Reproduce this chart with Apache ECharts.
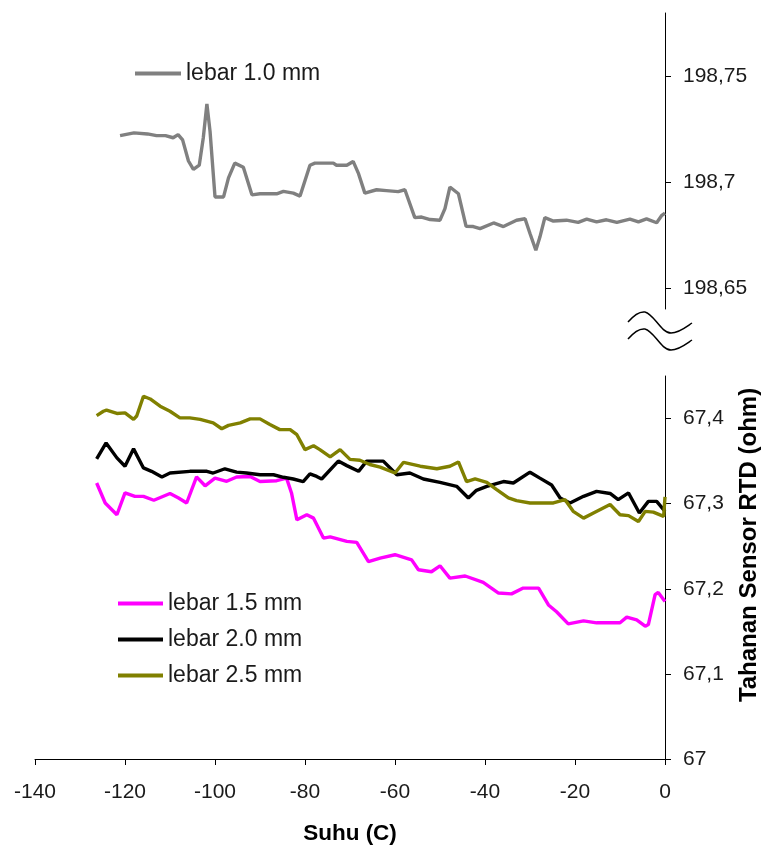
<!DOCTYPE html>
<html>
<head>
<meta charset="utf-8">
<script src="https://cdn.jsdelivr.net/npm/echarts@6/dist/echarts.min.js"></script>
<style>
html,body{margin:0;padding:0;background:#fff;}
#chart{width:762px;height:848px;}
</style>
</head>
<body>
<div id="chart"></div>
<script>
// ---- data ----
const seriesNames = ['lebar 1.0 mm', 'lebar 1.5 mm', 'lebar 2.0 mm', 'lebar 2.5 mm'];

const temp10 = [-121.1,-118,-115,-113,-111,-109.3,-108.2,-107.2,-105.9,-104.8,-103.5,-102.6,-101.8,-101.1,-100.0,-98.1,-97.0,-95.6,-93.7,-91.8,-90.0,-86.3,-84.8,-82.6,-81.1,-78.9,-77.8,-73.7,-73.0,-70.7,-69.3,-68.1,-66.7,-64.1,-61.9,-59.3,-57.8,-55.6,-54.1,-52.2,-50.0,-48.9,-47.8,-45.9,-44.2,-42.6,-41.1,-38.1,-35.9,-33.0,-31.1,-30.0,-28.7,-27.8,-26.7,-24.8,-21.9,-19.3,-17.4,-15.2,-13.0,-10.7,-7.8,-5.9,-4.1,-1.85,-0.7,0];
const res10 = [198.722,198.7233,198.7228,198.722,198.722,198.721,198.7225,198.720,198.710,198.706,198.708,198.721,198.737,198.724,198.693,198.693,198.702,198.709,198.707,198.694,198.6945,198.6945,198.6956,198.6948,198.6934,198.708,198.709,198.709,198.708,198.708,198.7098,198.704,198.6948,198.6964,198.696,198.6955,198.6964,198.6832,198.6835,198.6823,198.682,198.6875,198.6977,198.6945,198.6791,198.679,198.678,198.6807,198.679,198.682,198.6827,198.6757,198.6678,198.674,198.6832,198.6816,198.682,198.681,198.6825,198.6812,198.6822,198.681,198.6825,198.6812,198.6826,198.6808,198.6843,198.6854];

const temp15 = [-126.3,-124.4,-121.8,-120.0,-117.8,-115.9,-113.6,-110.0,-108.1,-106.3,-104.1,-102.2,-100.0,-97.4,-95.2,-92.2,-90.0,-86.3,-84.1,-83.0,-81.8,-79.6,-78.1,-75.9,-74.4,-70.7,-68.5,-65.9,-63.3,-60.0,-56.3,-54.8,-51.9,-50.0,-47.8,-44.4,-40.4,-37.0,-34.1,-31.5,-28.1,-25.9,-24.1,-21.5,-18.1,-15.2,-10.0,-8.5,-6.3,-4.4,-3.7,-2.2,-1.5,0];
const res15 = [67.3243,67.3008,67.287,67.3126,67.3086,67.3086,67.304,67.312,67.3067,67.3008,67.3314,67.321,67.330,67.3263,67.3314,67.332,67.326,67.327,67.330,67.3126,67.281,67.287,67.283,67.2596,67.261,67.2557,67.2545,67.232,67.236,67.240,67.234,67.2224,67.220,67.227,67.2125,67.215,67.2075,67.195,67.194,67.2008,67.2008,67.181,67.173,67.1588,67.1623,67.160,67.160,67.1667,67.1635,67.156,67.158,67.193,67.1957,67.185];

const temp20 = [-126.3,-124.2,-121.8,-120.0,-118.1,-115.9,-114.1,-111.8,-110.0,-105.6,-101.8,-100.4,-97.8,-95.2,-93.0,-90.0,-87.0,-84.8,-82.6,-80.4,-78.9,-77.4,-76.3,-72.6,-70.7,-68.1,-66.3,-62.6,-59.6,-56.7,-53.7,-50.0,-46.3,-43.7,-41.9,-39.6,-35.9,-33.7,-30.0,-27.8,-25.2,-23.3,-21.1,-18.1,-15.2,-12.2,-10.4,-8.1,-5.7,-3.7,-1.85,0];
const res20 = [67.3526,67.3714,67.3538,67.344,67.3644,67.342,67.338,67.3314,67.336,67.338,67.338,67.336,67.341,67.337,67.336,67.334,67.334,67.331,67.329,67.326,67.335,67.332,67.329,67.350,67.3447,67.338,67.350,67.350,67.334,67.336,67.329,67.325,67.3204,67.3067,67.3157,67.3204,67.326,67.3243,67.337,67.330,67.322,67.3067,67.3008,67.3086,67.3145,67.312,67.3047,67.3126,67.289,67.3027,67.3027,67.291];

const temp25 = [-126.3,-124.8,-124.1,-121.8,-120.0,-118.1,-117.4,-115.9,-114.4,-112.2,-110.0,-107.8,-105.6,-103.3,-100.4,-98.5,-97.0,-94.4,-92.2,-90.0,-87.8,-85.6,-83.3,-81.8,-80.0,-78.1,-76.7,-74.4,-72.2,-70.0,-67.8,-65.6,-63.3,-60.0,-58.1,-54.4,-50.7,-47.8,-45.9,-44.1,-42.2,-39.6,-37.4,-34.8,-33.0,-30.0,-24.8,-22.2,-20.4,-18.1,-15.9,-12.2,-10.0,-8.1,-5.9,-4.4,-2.6,-0.3,0];
const res25 = [67.4035,67.4086,67.410,67.406,67.4067,67.399,67.403,67.4262,67.423,67.4145,67.4086,67.4008,67.4008,67.399,67.395,67.388,67.392,67.395,67.3996,67.3996,67.393,67.387,67.387,67.381,67.3635,67.368,67.3635,67.355,67.3635,67.352,67.351,67.346,67.343,67.336,67.3486,67.344,67.341,67.344,67.349,67.326,67.329,67.325,67.3165,67.3067,67.3035,67.3008,67.3008,67.3047,67.291,67.283,67.289,67.299,67.287,67.286,67.279,67.291,67.290,67.285,67.308];

const xTicks = [-140, -120, -100, -80, -60, -40, -20, 0];
const yTicksTop = [198.65, 198.70, 198.75];
const yTicksBottom = [67.0, 67.1, 67.2, 67.3, 67.4];

// ---- chart ----
const FONT = '"Liberation Sans", Arial, sans-serif';
const fmt = v => String(+(+v).toFixed(2)).replace('.', ',');
const pairs = (xs, ys) => xs.map((x, i) => [x, ys[i]]);

const chart = echarts.init(document.getElementById('chart'), null, {renderer: 'canvas'});

const baseY = {
  type: 'value',
  position: 'right',
  scale: true,
  axisLine: {show: true, onZero: false, lineStyle: {color: '#000', width: 1}},
  axisTick: {show: true, inside: false, length: 6, lineStyle: {color: '#000'}},
  splitLine: {show: false},
  axisLabel: {color: '#1a1a1a', fontSize: 21, fontFamily: FONT, margin: 18, formatter: fmt}
};

// decorative axis-break wave (two parallel curves)
function wave(dy) {
  const segs = [
    [628,322, 634,315, 639,311, 645,312],
    [645,312, 654,314, 661,333, 671,333],
    [671,333, 679,333, 686,327, 692,323]
  ];
  return segs.map(s => ({
    type: 'bezierCurve', silent: true,
    shape: {x1: s[0], y1: s[1] + dy, cpx1: s[2], cpy1: s[3] + dy, cpx2: s[4], cpy2: s[5] + dy, x2: s[6], y2: s[7] + dy},
    style: {fill: null, stroke: '#000', lineWidth: 1.5}
  }));
}

const option = {
  animation: false,
  backgroundColor: '#fff',
  grid: [
    {left: 35, width: 630, top: 13, height: 296, containLabel: false},
    {left: 35, width: 630, top: 376, height: 383, containLabel: false}
  ],
  xAxis: [
    {gridIndex: 0, type: 'value', min: -140, max: 0, show: false},
    {gridIndex: 1, type: 'value', min: -140, max: 0, interval: 20,
     axisLine: {show: true, onZero: false, lineStyle: {color: '#000', width: 1}},
     axisTick: {show: true, length: 6, lineStyle: {color: '#000'}},
     splitLine: {show: false},
     axisLabel: {color: '#1a1a1a', fontSize: 21, fontFamily: FONT, margin: 23},
     name: 'Suhu (C)', nameLocation: 'middle', nameGap: 63,
     nameTextStyle: {color: '#000', fontSize: 22.5, fontWeight: 'bold', fontFamily: FONT}}
  ],
  yAxis: [
    Object.assign({}, baseY, {gridIndex: 0, min: 198.64, max: 198.78,
      axisTick: Object.assign({}, baseY.axisTick, {customValues: yTicksTop}),
      axisLabel: Object.assign({}, baseY.axisLabel, {customValues: yTicksTop})}),
    Object.assign({}, baseY, {gridIndex: 1, min: 67, max: 67.45,
      axisTick: Object.assign({}, baseY.axisTick, {customValues: yTicksBottom}),
      axisLabel: Object.assign({}, baseY.axisLabel, {customValues: yTicksBottom})})
  ],
  legend: [
    {data: [seriesNames[0]], left: 135, top: 62, padding: 0,
     icon: 'rect', itemWidth: 46, itemHeight: 4, itemGap: 10,
     textStyle: {color: '#1a1a1a', fontSize: 23, fontFamily: FONT}},
    {data: [seriesNames[1], seriesNames[2], seriesNames[3]], orient: 'vertical',
     left: 118, top: 592, padding: 0, icon: 'rect', itemWidth: 45, itemHeight: 4, itemGap: 13,
     textStyle: {color: '#1a1a1a', fontSize: 23, fontFamily: FONT}}
  ],
  series: [
    {name: seriesNames[0], type: 'line', xAxisIndex: 0, yAxisIndex: 0, showSymbol: false,
     lineStyle: {color: '#808080', width: 3.4}, itemStyle: {color: '#808080'},
     data: pairs(temp10, res10)},
    {name: seriesNames[1], type: 'line', xAxisIndex: 1, yAxisIndex: 1, showSymbol: false,
     lineStyle: {color: '#ff00ff', width: 3.4}, itemStyle: {color: '#ff00ff'},
     data: pairs(temp15, res15)},
    {name: seriesNames[2], type: 'line', xAxisIndex: 1, yAxisIndex: 1, showSymbol: false,
     lineStyle: {color: '#000000', width: 3.4}, itemStyle: {color: '#000000'},
     data: pairs(temp20, res20)},
    {name: seriesNames[3], type: 'line', xAxisIndex: 1, yAxisIndex: 1, showSymbol: false,
     lineStyle: {color: '#808000', width: 3.4}, itemStyle: {color: '#808000'},
     data: pairs(temp25, res25)}
  ],
  graphic: wave(0).concat(wave(17)).concat([
    {type: 'text', x: 749, y: 545, rotation: Math.PI / 2, silent: true,
     style: {text: 'Tahanan Sensor RTD (ohm)', fill: '#000', font: 'bold 24px ' + FONT,
             align: 'center', verticalAlign: 'middle'}}
  ])
};
chart.setOption(option);
</script>
</body>
</html>
